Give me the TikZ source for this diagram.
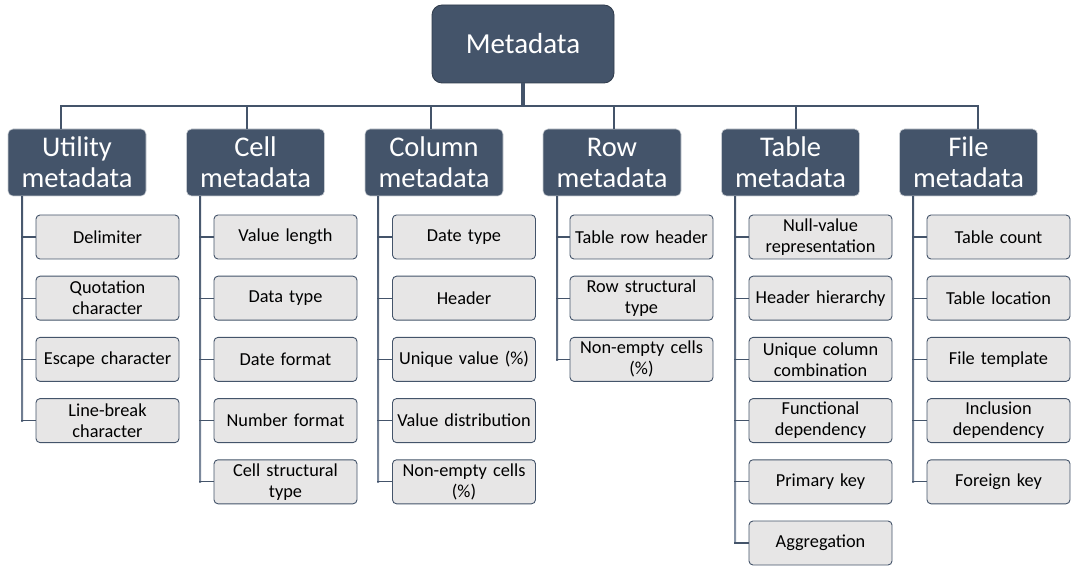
\documentclass[tikz,border=0pt]{standalone}
\usepackage{fontspec}
\setmainfont{Carlito}
\usetikzlibrary{calc}

\definecolor{slate}{HTML}{44546A}
\definecolor{slatedark}{HTML}{2F3B4B}
\definecolor{leaf}{HTML}{E7E6E6}
\definecolor{trunkend}{HTML}{8E9AAC}

\tikzset{
  rootbox/.style={draw=slatedark, line width=0.8pt, fill=slate, rounded corners=10pt,
    minimum width=182pt, minimum height=78pt, text=white, inner sep=0pt,
    font=\fontsize{29}{32}\selectfont},
  catbox/.style={draw=white!70!slate, line width=0.6pt, fill=slate, rounded corners=5pt,
    minimum width=138pt, minimum height=67pt, text=white, align=center, inner sep=0pt,
    font=\fontsize{28.5}{31}\selectfont},
  leafbox/.style={draw=slate, line width=0.9pt, fill=leaf, rounded corners=4pt,
    minimum width=143pt, minimum height=44pt, text width=143pt, align=center,
    inner sep=0pt, font=\fontsize{18.3}{21}\selectfont},
  busline/.style={draw=slate, line width=2.8pt, line join=miter},
  stemline/.style={draw=slate, line width=2.5pt},
  rootstem/.style={draw=slate, line width=4pt},
  tickline/.style={draw=slate, line width=1.3pt},
}

\begin{document}
\begin{tikzpicture}[x=1pt, y=-1pt]
  \useasboundingbox (0,0) rectangle (1071,569);

  % root
  \node[rootbox] (root) at (523,44) {Metadata};

  % categories
  \node[catbox] (U) at (77,162.5)    {Utility\\metadata};
  \node[catbox] (C) at (255.5,162.5) {Cell\\metadata};
  \node[catbox] (K) at (434,162.5)   {Column\\metadata};
  \node[catbox] (R) at (612,162.5)   {Row\\metadata};
  \node[catbox] (T) at (790.5,162.5) {Table\\metadata};
  \node[catbox] (F) at (968.5,162.5) {File\\metadata};

  % bus junctions
  \coordinate (sU) at (61,106);
  \coordinate (sC) at (247,106);
  \coordinate (sK) at (431,106);
  \coordinate (sR) at (614,106);
  \coordinate (sT) at (796,106);
  \coordinate (sF) at (978,106);

  % trunk columns, one per category
  \coordinate (tU) at (22,0);
  \coordinate (tC) at (200,0);
  \coordinate (tK) at (378,0);
  \coordinate (tR) at (557,0);
  \coordinate (tT) at (735,0);
  \coordinate (tF) at (913,0);

  % leaves: Utility
  \node[leafbox] (U1) at (107.5,237.0) {Delimiter};
  \node[leafbox] (U2) at (107.5,298.2) {Quotation\\character};
  \node[leafbox] (U3) at (107.5,359.4) {Escape character};
  \node[leafbox] (U4) at (107.5,420.6) {Line-break\\character};

  % leaves: Cell
  \node[leafbox] (C1) at (285.5,237.0) {Value length};
  \node[leafbox] (C2) at (285.5,298.2) {Data type};
  \node[leafbox] (C3) at (285.5,359.4) {Date format};
  \node[leafbox] (C4) at (285.5,420.6) {Number format};
  \node[leafbox] (C5) at (285.5,481.8) {Cell structural\\type};

  % leaves: Column
  \node[leafbox] (K1) at (464,237.0) {Date type};
  \node[leafbox] (K2) at (464,298.2) {Header};
  \node[leafbox] (K3) at (464,359.4) {Unique value (\%)};
  \node[leafbox] (K4) at (464,420.6) {Value distribution};
  \node[leafbox] (K5) at (464,481.8) {Non-empty cells\\(\%)};

  % leaves: Row
  \node[leafbox] (R1) at (641.5,237.0) {Table row header};
  \node[leafbox] (R2) at (641.5,298.2) {Row structural\\type};
  \node[leafbox] (R3) at (641.5,359.4) {Non-empty cells\\(\%)};

  % leaves: Table
  \node[leafbox] (T1) at (820.5,237.0) {Null-value\\representation};
  \node[leafbox] (T2) at (820.5,298.2) {Header hierarchy};
  \node[leafbox] (T3) at (820.5,359.4) {Unique column\\combination};
  \node[leafbox] (T4) at (820.5,420.6) {Functional\\dependency};
  \node[leafbox] (T5) at (820.5,481.8) {Primary key};
  \node[leafbox] (T6) at (820.5,543.0) {Aggregation};

  % leaves: File
  \node[leafbox] (F1) at (998.5,237.0) {Table count};
  \node[leafbox] (F2) at (998.5,298.2) {Table location};
  \node[leafbox] (F3) at (998.5,359.4) {File template};
  \node[leafbox] (F4) at (998.5,420.6) {Inclusion\\dependency};
  \node[leafbox] (F5) at (998.5,481.8) {Foreign key};

  % root to bus
  \draw[rootstem] (root.south) -- (root.south |- sU);
  \draw[busline] (sU |- U.north) -- (sU) -- (sF) -- (sF |- F.north);
  \foreach \s/\c in {sC/C, sK/K, sR/R, sT/T}
    \draw[stemline] (\s) -- (\s |- \c.north);

  % trunks, fading towards the bottom
  \foreach \t/\c/\last/\fade in {tU/U/U4/62, tC/C/C5/78, tK/K/K5/78,
                                 tR/R/R3/45, tT/T/T6/95, tF/F/F5/78}{
    \shade[top color=slate, bottom color=trunkend!\fade!slate]
      ($(\t |- \c.south)+(-1,0)$) rectangle ($(\t |- \last.west)+(1,0.7)$);
  }

  % ticks into the leaves
  \foreach \t/\l in {tU/U1, tU/U2, tU/U3, tU/U4,
                     tC/C1, tC/C2, tC/C3, tC/C4, tC/C5,
                     tK/K1, tK/K2, tK/K3, tK/K4, tK/K5,
                     tR/R1, tR/R2, tR/R3,
                     tT/T1, tT/T2, tT/T3, tT/T4, tT/T5, tT/T6,
                     tF/F1, tF/F2, tF/F3, tF/F4, tF/F5}
    \draw[tickline] ($(\t |- \l.west)+(-1,0)$) -- (\l.west);
\end{tikzpicture}
\end{document}
